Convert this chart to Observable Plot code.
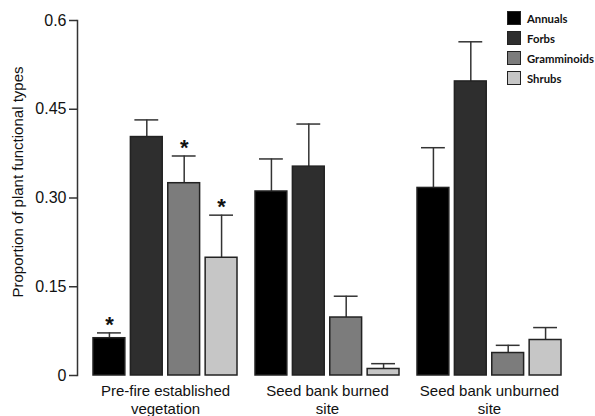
<!DOCTYPE html>
<html><head><meta charset="utf-8">
<script src="https://cdn.jsdelivr.net/npm/d3@7"></script>
<script src="https://cdn.jsdelivr.net/npm/@observablehq/plot@0.6"></script>
<style>
html,body{margin:0;padding:0;background:#fff;}
#wrap{position:relative;width:595px;height:416px;overflow:hidden;}
#legend{position:absolute;left:507px;top:8px;font-family:Lato,"Open Sans",sans-serif;font-weight:700;font-size:11.3px;color:#111;}
.item{display:flex;align-items:center;height:20px;}
.sw{width:14px;height:14px;border:1.5px solid #222;box-sizing:border-box;margin-right:6px;}
</style></head><body><div id="wrap"><div id="legend"></div></div>
<script>
const groups = ["Pre-fire established vegetation", "Seed bank burned site", "Seed bank unburned site"];
const groupLabels = ["Pre-fire established\nvegetation", "Seed bank burned\nsite", "Seed bank unburned\nsite"];
const types = ["Annuals", "Forbs", "Gramminoids", "Shrubs"];
const colors = ["#000000", "#2e2e2e", "#7c7c7c", "#c6c6c6"];
// means per group (Pre-fire, burned, unburned)
const annuals = [0.063, 0.311, 0.317];
const forbs = [0.403, 0.353, 0.497];
const gramminoids = [0.325, 0.098, 0.038];
const shrubs = [0.199, 0.011, 0.060];
// upper error (SE) per group
const annualsErr = [0.009, 0.055, 0.068];
const forbsErr = [0.029, 0.072, 0.067];
const gramminoidsErr = [0.046, 0.036, 0.013];
const shrubsErr = [0.072, 0.009, 0.021];
const significant = [["Pre-fire established vegetation", "Annuals"], ["Pre-fire established vegetation", "Gramminoids"], ["Pre-fire established vegetation", "Shrubs"]];
const yTicks = [0, 0.15, 0.30, 0.45, 0.6];
const yTickLabels = ["0", "0.15", "0.30", "0.45", "0.6"];
const yLabel = "Proportion of plant functional types";

const means = [annuals, forbs, gramminoids, shrubs];
const errs = [annualsErr, forbsErr, gramminoidsErr, shrubsErr];
const rows = [];
groups.forEach((g, gi) => types.forEach((t, ti) => {
  rows.push({group: g, type: t, mean: means[ti][gi], top: means[ti][gi] + errs[ti][gi]});
}));
const sig = rows.filter(r => significant.some(([g, t]) => g === r.group && t === r.type));

// layout of the grouped band scale (style only)
const W = 595, H = 416, mL = 77, mR = 17, mT = 20, mB = 41;
const padIn = 0.11, padOut = 0.1, subPad = 0.14;
const step = (W - mL - mR) / (groups.length - padIn + 2 * padOut);
const bw = step * (1 - padIn);
const slot = bw / (types.length - subPad);
const barW = slot * (1 - subPad);
const off = i => ({L: i * slot, R: bw - (i * slot + barW), c: i * slot + barW / 2 - bw / 2});
const tickLen = 8;

const perType = [];
types.forEach((t, i) => {
  const d = rows.filter(r => r.type === t);
  const s = sig.filter(r => r.type === t);
  const o = off(i);
  perType.push(
    Plot.ruleX(d, {x: "group", y1: "mean", y2: "top", dx: o.c, stroke: "#333", strokeWidth: 1.5}),
    Plot.tickY(d, {x: "group", y: "top", insetLeft: o.L + 4, insetRight: o.R + 4, stroke: "#333", strokeWidth: 1.5}),
    Plot.barY(d, {x: "group", y: "mean", fill: "type", insetLeft: o.L, insetRight: o.R, stroke: "#222", strokeWidth: 1.5}),
    Plot.text(s, {x: "group", y: "top", dx: o.c, text: () => "*", lineAnchor: "bottom", dy: -1,
      fontSize: 22, fontWeight: "bold", fill: "#111"})
  );
});

const chart = Plot.plot({
  width: W, height: H,
  marginLeft: mL, marginRight: mR, marginTop: mT, marginBottom: mB,
  style: {fontFamily: "'Liberation Sans', Arial, sans-serif", fontSize: "13px", color: "#111", background: "#fff"},
  x: {domain: groups, paddingInner: padIn, paddingOuter: padOut, label: null},
  y: {domain: [0, 0.6], axis: null},
  color: {domain: types, range: colors},
  marks: [
    Plot.axisX({anchor: "bottom", tickSize: 0, tickPadding: 8, fontSize: 15, lineHeight: 1.2, label: null,
      tickFormat: d => groupLabels[groups.indexOf(d)]}),
    // y axis: ticks, tick labels, axis line and title
    Plot.ruleY(yTicks, {y: d => d, dx: -tickLen, insetRight: (W - mL - mR) - tickLen, stroke: "#333", strokeWidth: 1.5}),
    Plot.text(yTicks, {y: d => d, text: d => yTickLabels[yTicks.indexOf(d)], frameAnchor: "left", textAnchor: "end",
      dx: -(tickLen + 3), fontSize: 16, fill: "#111"}),
    Plot.frame({anchor: "left", stroke: "#333", strokeWidth: 1.5}),
    Plot.text([yLabel], {text: d => d, frameAnchor: "left", textAnchor: "middle", rotate: -90, dx: -59, dy: -16,
      fontSize: 15, fill: "#111"}),
    ...perType
  ]
});
const wrap = document.getElementById("wrap");
wrap.insertBefore(chart, wrap.firstChild);
const legend = document.getElementById("legend");
types.forEach((t, i) => {
  const it = document.createElement("div"); it.className = "item";
  const sw = document.createElement("div"); sw.className = "sw"; sw.style.background = colors[i];
  const tx = document.createElement("span"); tx.textContent = t;
  it.appendChild(sw); it.appendChild(tx); legend.appendChild(it);
});
</script></body></html>
